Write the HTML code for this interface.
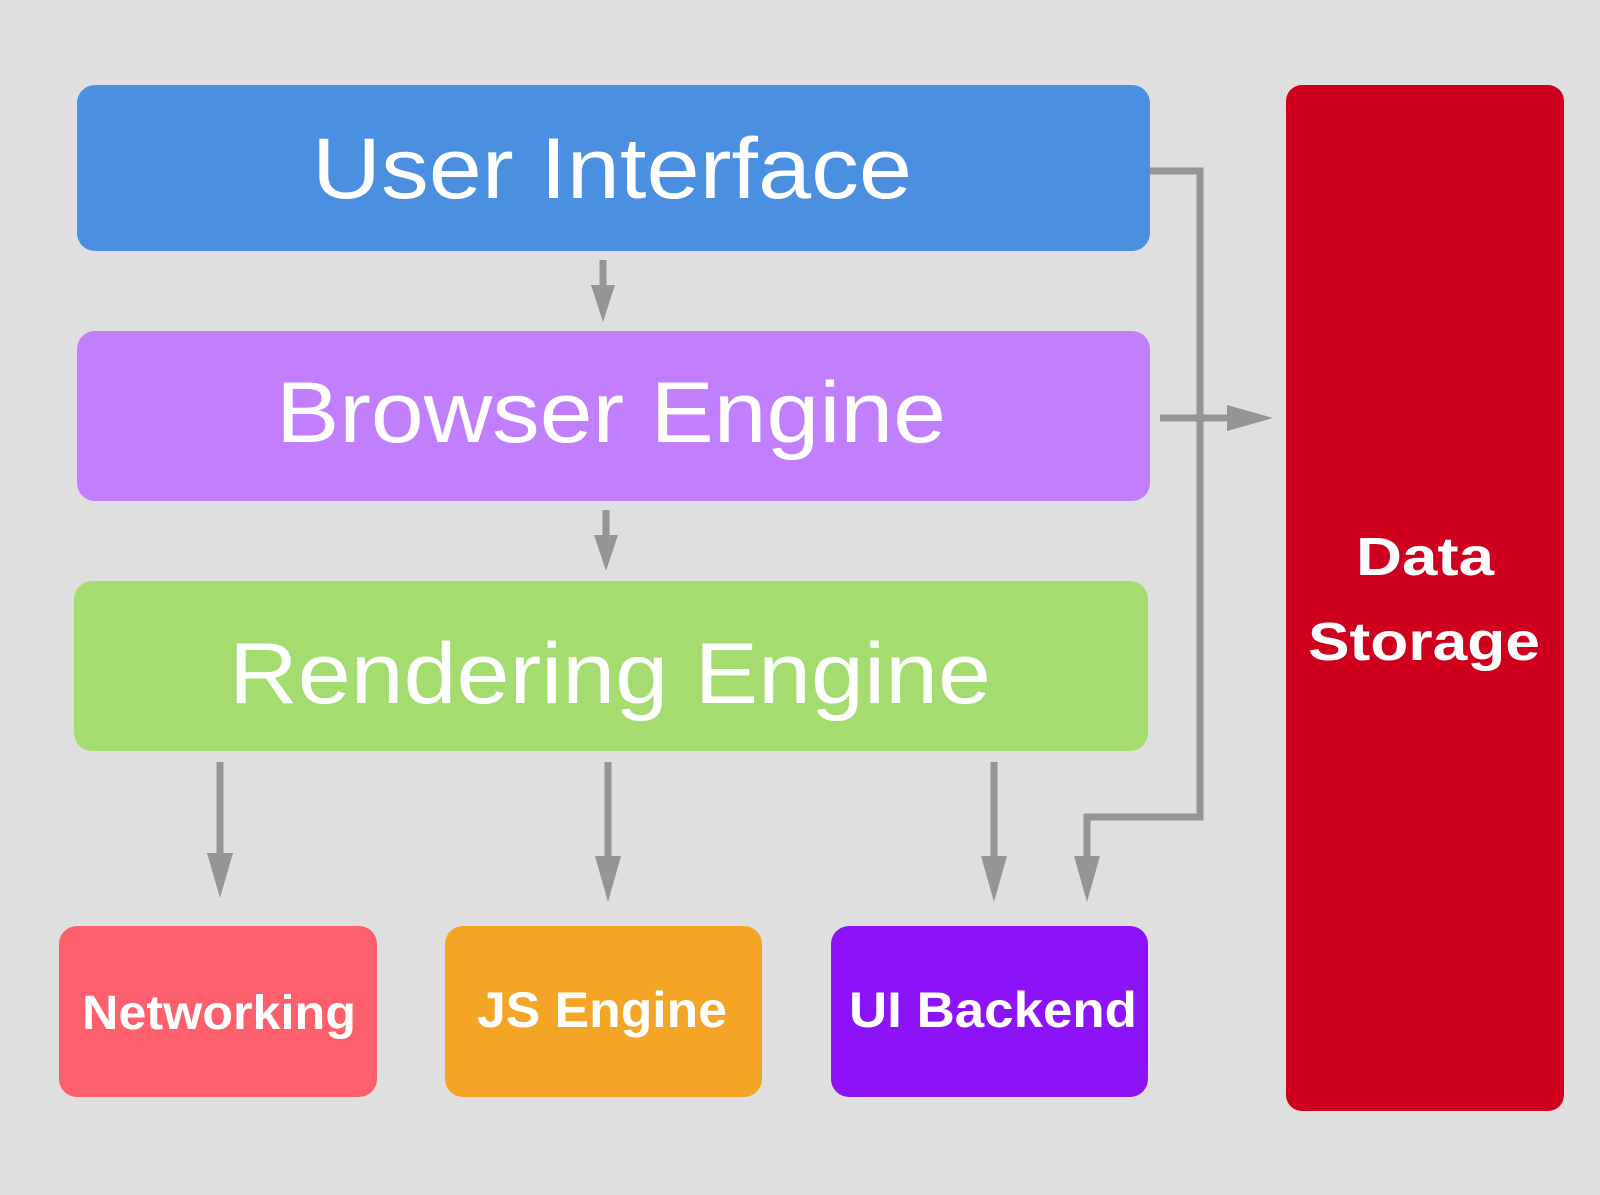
<!DOCTYPE html>
<html><head><meta charset="utf-8"><style>
html,body{margin:0;padding:0;background:#dfdfdf;}
svg{display:block;}
text{font-family:"Liberation Sans",sans-serif;fill:#fff;}
</style></head><body>
<svg width="1600" height="1195" viewBox="0 0 1600 1195" xmlns="http://www.w3.org/2000/svg">
<rect width="1600" height="1195" fill="#dfdfdf"/>
<rect x="77" y="85" width="1073" height="166" rx="18" fill="#4a8fe0"/>
<rect x="77" y="331" width="1073" height="170" rx="18" fill="#c27ffd"/>
<rect x="74" y="581" width="1074" height="170" rx="18" fill="#a4dc6f"/>
<rect x="59" y="926" width="318" height="171" rx="18" fill="#fd5f6c"/>
<rect x="445" y="926" width="317" height="171" rx="18" fill="#f4a525"/>
<rect x="831" y="926" width="317" height="171" rx="18" fill="#8c12f8"/>
<rect x="1286" y="85" width="278" height="1026" rx="16" fill="#cf001d"/>

<text x="612" y="198" font-size="86" text-anchor="middle" textLength="600" lengthAdjust="spacingAndGlyphs">User Interface</text>
<text x="611" y="442" font-size="86" text-anchor="middle" textLength="670" lengthAdjust="spacingAndGlyphs">Browser Engine</text>
<text x="610" y="703" font-size="86" text-anchor="middle" textLength="762" lengthAdjust="spacingAndGlyphs">Rendering Engine</text>
<text x="219" y="1029" font-size="48" font-weight="bold" text-anchor="middle" textLength="274" lengthAdjust="spacingAndGlyphs">Networking</text>
<text x="602" y="1027" font-size="50" font-weight="bold" text-anchor="middle" textLength="250" lengthAdjust="spacingAndGlyphs">JS Engine</text>
<text x="993" y="1027" font-size="50" font-weight="bold" text-anchor="middle" textLength="288" lengthAdjust="spacingAndGlyphs">UI Backend</text>
<text x="1425" y="575" font-size="54" font-weight="bold" text-anchor="middle" textLength="138" lengthAdjust="spacingAndGlyphs">Data</text>
<text x="1424" y="660" font-size="54" font-weight="bold" text-anchor="middle" textLength="232" lengthAdjust="spacingAndGlyphs">Storage</text>

<g stroke="#959595" stroke-width="7" fill="none">
<polyline points="1150,171 1200,171 1200,817 1087,817 1087,862"/>
<line x1="1160" y1="418" x2="1230" y2="418"/>
<line x1="603" y1="260" x2="603" y2="295"/>
<line x1="606" y1="510" x2="606" y2="545"/>
<line x1="220" y1="762" x2="220" y2="860"/>
<line x1="608" y1="762" x2="608" y2="862"/>
<line x1="994" y1="762" x2="994" y2="862"/>
</g>
<g fill="#959595">
<polygon points="1227,405 1273,418 1227,431"/>
<polygon points="591,285 615,285 603,322"/>
<polygon points="594,535 618,535 606,571"/>
<polygon points="207,853 233,853 220,898"/>
<polygon points="595,856 621,856 608,902"/>
<polygon points="981,856 1007,856 994,902"/>
<polygon points="1074,856 1100,856 1087,902"/>
</g>
</svg>
</body></html>
